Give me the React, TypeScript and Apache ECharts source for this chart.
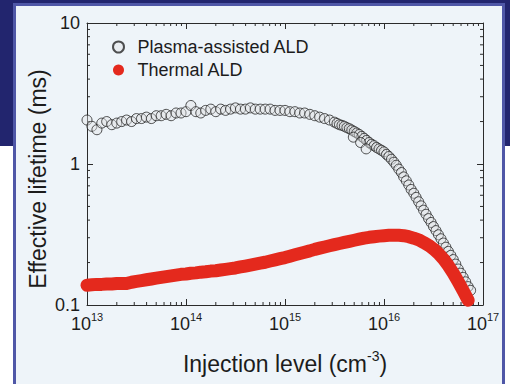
import React, { useEffect, useRef } from "react";
import * as echarts from "echarts";

// Injection level (cm^-3), thermal ALD
const thermalInjection = [
  1.0e13, 1.12e13, 1.26e13, 1.41e13, 1.58e13, 1.78e13, 2.0e13, 2.24e13, 2.51e13, 2.82e13,
  3.16e13, 3.55e13, 3.98e13, 4.47e13, 5.01e13, 5.62e13, 6.31e13, 7.08e13, 7.94e13, 8.91e13,
  1.0e14, 1.12e14, 1.26e14, 1.41e14, 1.58e14, 1.78e14, 2.0e14, 2.24e14, 2.51e14, 2.82e14,
  3.16e14, 3.55e14, 3.98e14, 4.47e14, 5.01e14, 5.62e14, 6.31e14, 7.08e14, 7.94e14, 8.91e14,
  1.0e15, 1.12e15, 1.26e15, 1.41e15, 1.58e15, 1.78e15, 2.0e15, 2.24e15, 2.51e15, 2.82e15,
  3.16e15, 3.55e15, 3.98e15, 4.47e15, 5.01e15, 5.62e15, 6.31e15, 7.08e15, 7.94e15, 8.91e15,
  1.0e16, 1.12e16, 1.26e16, 1.41e16, 1.58e16, 1.78e16, 2.0e16, 2.24e16, 2.51e16, 2.82e16,
  3.16e16, 3.55e16, 3.98e16, 4.47e16, 5.01e16, 5.62e16, 6.31e16, 7.08e16,
];

// Effective lifetime (ms), thermal ALD
const thermalLifetime = [
  0.138, 0.139, 0.14, 0.14, 0.141, 0.141, 0.142, 0.142, 0.142, 0.145,
  0.147, 0.149, 0.151, 0.153, 0.155, 0.157, 0.159, 0.161, 0.163, 0.165,
  0.166, 0.168, 0.169, 0.171, 0.172, 0.174, 0.175, 0.177, 0.179, 0.181,
  0.183, 0.186, 0.189, 0.192, 0.195, 0.198, 0.201, 0.205, 0.209, 0.213,
  0.217, 0.222, 0.227, 0.232, 0.237, 0.242, 0.248, 0.253, 0.258, 0.263,
  0.268, 0.273, 0.278, 0.283, 0.288, 0.293, 0.298, 0.302, 0.305, 0.308,
  0.31, 0.312, 0.313, 0.312, 0.31, 0.305, 0.298, 0.29, 0.278, 0.265,
  0.25, 0.232, 0.212, 0.19, 0.168, 0.146, 0.126, 0.108,
];

// Injection level (cm^-3), plasma-assisted ALD
const plasmaInjection = [
  1.0e13, 1.12e13, 1.26e13, 1.41e13, 1.58e13, 1.78e13, 2.0e13, 2.24e13, 2.51e13, 2.82e13,
  3.16e13, 3.55e13, 3.98e13, 4.47e13, 5.01e13, 5.62e13, 6.31e13, 7.08e13, 7.94e13, 8.91e13,
  1.0e14, 1.12e14, 1.26e14, 1.41e14, 1.58e14, 1.78e14, 2.0e14, 2.24e14, 2.51e14, 2.82e14,
  3.16e14, 3.55e14, 3.98e14, 4.47e14, 5.01e14, 5.62e14, 6.31e14, 7.08e14, 7.94e14, 8.91e14,
  1.0e15, 1.12e15, 1.26e15, 1.41e15, 1.58e15, 1.78e15, 2.0e15, 2.24e15, 2.51e15, 2.82e15,
  3.16e15, 3.35e15, 3.55e15, 3.76e15, 3.98e15, 4.22e15, 4.47e15, 4.73e15, 5.01e15, 5.31e15,
  5.62e15, 5.96e15, 6.31e15, 6.68e15, 7.08e15, 7.5e15, 7.94e15, 8.41e15, 8.91e15, 9.44e15,
  1.0e16, 1.06e16, 1.12e16, 1.19e16, 1.26e16, 1.33e16, 1.41e16, 1.5e16, 1.58e16, 1.68e16,
  1.78e16, 1.88e16, 2.0e16, 2.11e16, 2.24e16, 2.37e16, 2.51e16, 2.66e16, 2.82e16, 2.99e16,
  3.16e16, 3.35e16, 3.55e16, 3.76e16, 3.98e16, 4.22e16, 4.47e16, 4.73e16, 5.01e16, 5.31e16,
  5.62e16, 5.96e16, 6.31e16, 6.68e16, 7.08e16, 7.5e16,
  4.9e15, 5.8e15, 6.6e15,
];

// Effective lifetime (ms), plasma-assisted ALD
const plasmaLifetime = [
  2.05, 1.85, 1.75, 1.95, 2.0, 1.9, 1.95, 2.0, 2.05, 2.0,
  2.1, 2.1, 2.15, 2.1, 2.2, 2.2, 2.25, 2.2, 2.3, 2.3,
  2.35, 2.6, 2.35, 2.3, 2.4, 2.45, 2.35, 2.45, 2.4, 2.45,
  2.5, 2.45, 2.45, 2.5, 2.45, 2.45, 2.45, 2.45, 2.4, 2.4,
  2.4, 2.35, 2.35, 2.3, 2.3, 2.25, 2.2, 2.15, 2.1, 2.05,
  1.98, 1.94, 1.9, 1.88, 1.85, 1.81, 1.78, 1.74, 1.7, 1.66,
  1.62, 1.57, 1.52, 1.47, 1.42, 1.38, 1.35, 1.31, 1.28, 1.25,
  1.22, 1.17, 1.13, 1.08, 1.03, 0.98, 0.92, 0.87, 0.81, 0.76,
  0.71, 0.66, 0.62, 0.58, 0.54, 0.505, 0.47, 0.44, 0.41, 0.385,
  0.36, 0.337, 0.315, 0.295, 0.275, 0.257, 0.24, 0.225, 0.21, 0.195,
  0.18, 0.168, 0.157, 0.146, 0.135, 0.127,
  1.55, 1.42, 1.28,
];

const seriesNames = ["Plasma-assisted ALD", "Thermal ALD"];
const xTitle = "Injection level (cm{s|-3})";
const yTitle = "Effective lifetime (ms)";

const xMinorTicks = [
  2e13, 3e13, 4e13, 5e13, 6e13, 7e13, 8e13, 9e13,
  2e14, 3e14, 4e14, 5e14, 6e14, 7e14, 8e14, 9e14,
  2e15, 3e15, 4e15, 5e15, 6e15, 7e15, 8e15, 9e15,
  2e16, 3e16, 4e16, 5e16, 6e16, 7e16, 8e16, 9e16,
];
const yMinorTicks = [0.2, 0.3, 0.4, 0.5, 0.6, 0.7, 0.8, 0.9, 2, 3, 4, 5, 6, 7, 8, 9];

const X_MIN = 1e13;
const X_MAX = 1e17;
const Y_MIN = 0.1;
const Y_MAX = 10;

export default function App() {
  const ref = useRef<HTMLDivElement>(null);

  useEffect(() => {
    if (!ref.current) return;
    const chart = echarts.init(ref.current, null, { renderer: "svg" });
    const font = "'Liberation Sans', Arial, Helvetica, sans-serif";
    const axisColor = "#2b2b2b";
    const textColor = "#1c1c1c";

    const axisCommon = {
      axisLine: { show: true, onZero: false, lineStyle: { color: axisColor, width: 1 } },
      axisTick: { show: true, inside: true, length: 6, lineStyle: { color: axisColor, width: 1 } },
      splitLine: { show: false },
      minorTick: { show: false },
    };

    const tickStyle = { stroke: axisColor, lineWidth: 1 };

    const option: any = {
      animation: false,
      backgroundColor: "transparent",
      grid: { left: 87, right: 27, top: 23, bottom: 74, containLabel: false },
      legend: {
        data: [
          { name: seriesNames[0], icon: "circle" },
          { name: seriesNames[1], icon: "circle" },
        ],
        orient: "vertical",
        left: 107,
        top: 33,
        itemWidth: 28,
        itemHeight: 11,
        itemGap: 5,
        textStyle: { fontSize: 18, fontFamily: font, color: textColor },
        selectedMode: false,
      },
      xAxis: [
        {
          type: "log",
          logBase: 10,
          min: X_MIN,
          max: X_MAX,
          position: "bottom",
          ...axisCommon,
          axisLabel: {
            margin: 6,
            formatter: (v: number) => `{b|10}{s|${Math.round(Math.log10(v))}}`,
            rich: {
              b: { fontSize: 18, lineHeight: 25, fontFamily: font, color: textColor },
              s: { fontSize: 11, lineHeight: 12, fontFamily: font, color: textColor, verticalAlign: "top" },
            },
          },
          name: xTitle,
          nameLocation: "middle",
          nameGap: 44,
          nameTextStyle: {
            fontSize: 23,
            lineHeight: 30,
            fontFamily: font,
            color: textColor,
            rich: { s: { fontSize: 14, lineHeight: 14, fontFamily: font, color: textColor, verticalAlign: "top" } },
          },
        },
        {
          type: "log",
          logBase: 10,
          min: X_MIN,
          max: X_MAX,
          position: "top",
          ...axisCommon,
          axisLabel: { show: false },
        },
      ],
      yAxis: [
        {
          type: "log",
          logBase: 10,
          min: Y_MIN,
          max: Y_MAX,
          position: "left",
          ...axisCommon,
          axisLabel: {
            margin: 7,
            fontSize: 18,
            fontFamily: font,
            color: textColor,
            formatter: (v: number) => (v < 1 ? v.toFixed(1) : String(Math.round(v))),
          },
        },
        {
          type: "log",
          logBase: 10,
          min: Y_MIN,
          max: Y_MAX,
          position: "right",
          ...axisCommon,
          axisLabel: { show: false },
        },
      ],
      graphic: [
        {
          type: "text",
          x: 38,
          y: 179,
          rotation: Math.PI / 2,
          style: {
            text: yTitle,
            fontSize: 23,
            fontFamily: font,
            fill: textColor,
            align: "center",
            verticalAlign: "middle",
            textAlign: "center",
            textVerticalAlign: "middle",
          },
        },
      ],
      series: [
        {
          name: seriesNames[0],
          type: "scatter",
          data: plasmaInjection.map((x, i) => [x, plasmaLifetime[i]]),
          symbol: "circle",
          symbolSize: 10,
          itemStyle: { color: "rgba(225,228,230,0.5)", borderColor: "#262626", borderWidth: 1 },
          z: 3,
          clip: false,
        },
        {
          name: seriesNames[1],
          type: "line",
          data: thermalInjection.map((x, i) => [x, thermalLifetime[i]]),
          showSymbol: false,
          symbol: "circle",
          lineStyle: { width: 13, color: "#e4291d", cap: "round", join: "round" },
          itemStyle: { color: "#e4291d" },
          z: 4,
          clip: false,
        },
        {
          type: "custom",
          silent: true,
          clip: false,
          data: xMinorTicks.map((x) => [x, 1]),
          renderItem: (_p: any, api: any) => {
            const x = api.value(0);
            const b = api.coord([x, Y_MIN]);
            const t = api.coord([x, Y_MAX]);
            return {
              type: "group",
              children: [
                { type: "line", shape: { x1: b[0], y1: b[1], x2: b[0], y2: b[1] - 3 }, style: tickStyle },
                { type: "line", shape: { x1: t[0], y1: t[1], x2: t[0], y2: t[1] + 3 }, style: tickStyle },
              ],
            };
          },
          z: 1,
        },
        {
          type: "custom",
          silent: true,
          clip: false,
          data: yMinorTicks.map((y) => [X_MIN * 10, y]),
          renderItem: (_p: any, api: any) => {
            const y = api.value(1);
            const l = api.coord([X_MIN, y]);
            const r = api.coord([X_MAX, y]);
            return {
              type: "group",
              children: [
                { type: "line", shape: { x1: l[0], y1: l[1], x2: l[0] + 3, y2: l[1] }, style: tickStyle },
                { type: "line", shape: { x1: r[0], y1: r[1], x2: r[0] - 3, y2: r[1] }, style: tickStyle },
              ],
            };
          },
          z: 1,
        },
      ],
    };

    chart.setOption(option);
    return () => chart.dispose();
  }, []);

  return (
    <div
      style={{
        position: "absolute",
        left: 0,
        top: 0,
        width: 510,
        height: 384,
        overflow: "hidden",
        background: "linear-gradient(to bottom, #22256e 0px, #22256e 146px, #ffffff 146px, #ffffff 384px)",
      }}
    >
      <div
        style={{
          position: "absolute",
          left: 13,
          top: 3,
          width: 486,
          height: 420,
          background: "#eef4f9",
          border: "3px solid #4f57a7",
        }}
      />
      <div ref={ref} style={{ position: "absolute", left: 0, top: 0, width: 510, height: 384 }} />
    </div>
  );
}
